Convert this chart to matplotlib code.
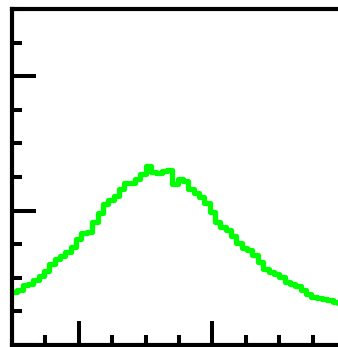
import numpy as np
import matplotlib
matplotlib.use("Agg")
import matplotlib.pyplot as plt
from matplotlib.ticker import MultipleLocator

# histogram data
bin_start = -0.5
bin_width = 0.04
counts = [0.394, 0.409, 0.446, 0.454, 0.484, 0.513, 0.551, 0.603, 0.640, 0.662,
          0.692, 0.729, 0.789, 0.833, 0.841, 0.915, 0.982, 1.049, 1.079, 1.109,
          1.161, 1.205, 1.205, 1.235, 1.272, 1.332, 1.287, 1.280, 1.295, 1.302,
          1.198, 1.235, 1.220, 1.161, 1.131, 1.101, 1.057, 0.990, 0.915, 0.878,
          0.856, 0.811, 0.759, 0.722, 0.707, 0.670, 0.618, 0.565, 0.543, 0.528,
          0.506, 0.469, 0.454, 0.439, 0.409, 0.379, 0.357, 0.350, 0.342, 0.335,
          0.320, 0.313]
edges = bin_start + bin_width * np.arange(len(counts) + 1)

W, H = 338, 347
fig = plt.figure(figsize=(W / 100, H / 100), dpi=100)
ax = fig.add_axes([12 / W, 2 / H, 334 / W, 336 / H])

st = ax.stairs(counts, edges, color="#00ff00", linewidth=3.8, baseline=None)
st.set_joinstyle("round")
st.set_capstyle("round")

ax.set_xlim(-0.5, 2.0)
ax.set_ylim(0, 2.5)
ax.xaxis.set_major_locator(MultipleLocator(1))
ax.xaxis.set_minor_locator(MultipleLocator(0.25))
ax.yaxis.set_major_locator(MultipleLocator(1))
ax.yaxis.set_minor_locator(MultipleLocator(0.25))
ax.tick_params(which="both", direction="in", width=2.9, color="black",
               labelbottom=False, labelleft=False)
ax.tick_params(which="major", length=17)
ax.tick_params(which="minor", length=7.5)
for s in ["left", "top", "bottom"]:
    ax.spines[s].set_linewidth(3.0)
ax.spines["right"].set_visible(False)

fig.savefig("out.png", dpi=100)
